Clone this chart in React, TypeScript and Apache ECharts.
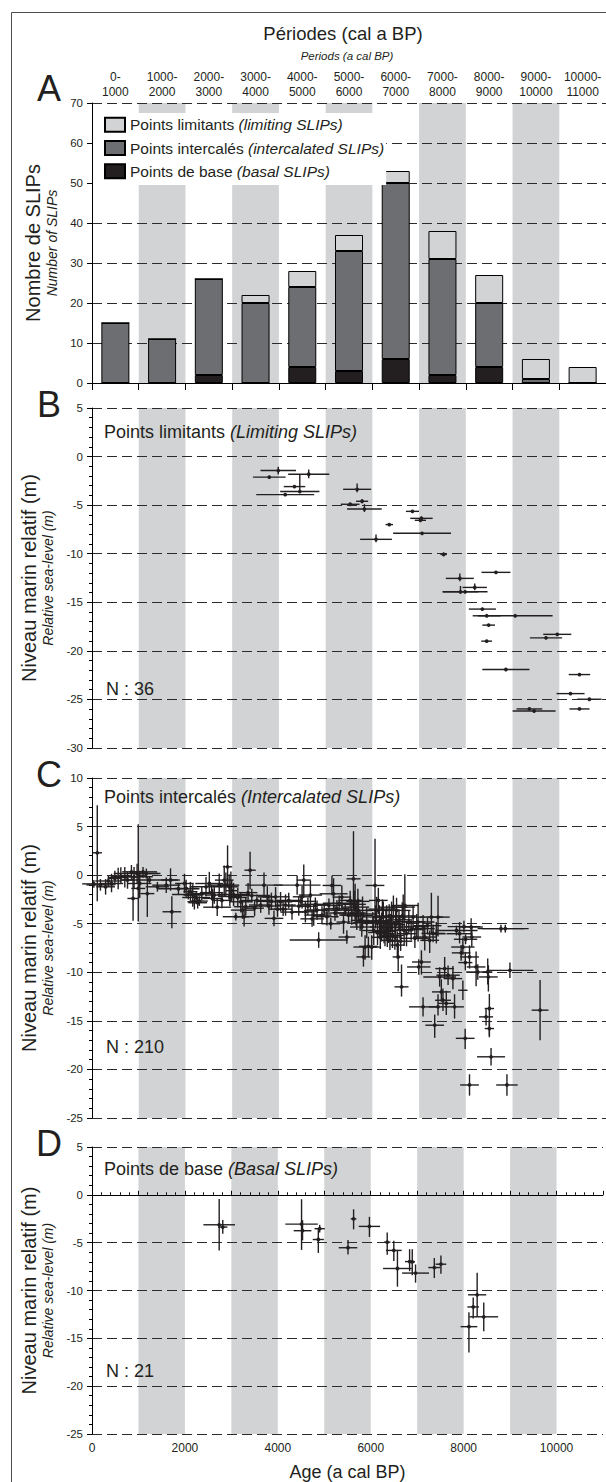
import React, { useEffect, useRef } from 'react';
import * as echarts from 'echarts';

const FONT = "'Liberation Sans', Arial, Helvetica, sans-serif";
const TEXT = '#231f20';
const BAND = '#d1d3d4';

// ---- Panel A: number of SLIPs per millennium ----
const periodLabels = ['0-\n1000', '1000-\n2000', '2000-\n3000', '3000-\n4000', '4000-\n5000', '5000-\n6000', '6000-\n7000', '7000-\n8000', '8000-\n9000', '9000-\n10000', '10000-\n11000'];
const basalCounts = [0, 0, 2, 0, 4, 3, 6, 2, 4, 0, 0];
const intercalatedCounts = [15, 11, 24, 20, 20, 30, 44, 29, 16, 1, 0];
const limitingCounts = [0, 0, 0, 2, 4, 4, 3, 7, 7, 5, 4];
const bandStarts = [1000, 3000, 5000, 7000, 9000];
const ageTickLabels = [0, 2000, 4000, 6000, 8000, 10000];

const NAME_LIM = 'Points limitants (limiting SLIPs)';
const NAME_INT = 'Points intercalés (intercalated SLIPs)';
const NAME_BAS = 'Points de base (basal SLIPs)';

// ---- SLIPs: [age, rsl, ageErr, rslErrDown, rslErrUp] ----
const limitingPoints = [
  [3986, -1.44, 380, 0.4, 0.4], [3794, -2.12, 350, 0.1, 0.1], [4638, -1.82, 440, 0.4, 0.5],
  [4333, -3.09, 230, 0.1, 0.1], [4447, -3.6, 420, 0.1, 1.8], [4135, -3.92, 620, 0.1, 0.1],
  [5674, -3.37, 300, 0.3, 0.6], [5780, -4.6, 130, 0.2, 0.2], [5525, -4.91, 200, 0.1, 0.1],
  [5830, -5.4, 370, 0.3, 0.5], [6858, -5.64, 140, 0.1, 0.1], [7050, -6.36, 240, 0.2, 0.2],
  [7028, -6.56, 120, 0.1, 0.1], [6362, -7.0, 80, 0.1, 0.1], [7064, -7.9, 620, 0.1, 0.1],
  [6078, -8.52, 340, 0.3, 0.5], [7525, -10.07, 70, 0.2, 0.2], [8645, -11.92, 310, 0.1, 0.1],
  [7872, -12.54, 300, 0.3, 0.5], [8191, -13.47, 260, 0.3, 0.4], [7886, -13.92, 380, 0.2, 0.6],
  [7985, -13.92, 480, 0.1, 0.1], [8354, -15.7, 290, 0.1, 0.1], [8447, -16.39, 300, 0.1, 0.1],
  [9057, -16.39, 800, 0.1, 0.1], [8489, -17.35, 135, 0.1, 0.1], [8447, -19.0, 115, 0.1, 0.1],
  [9957, -18.3, 300, 0.1, 0.1], [9716, -18.66, 345, 0.1, 0.1], [8858, -21.92, 505, 0.1, 0.1],
  [10432, -22.44, 230, 0.1, 0.1], [10241, -24.4, 300, 0.1, 0.1], [10645, -24.98, 260, 0.1, 0.1],
  [10432, -25.98, 215, 0.1, 0.1], [9361, -25.98, 275, 0.1, 0.1], [9461, -26.19, 460, 0.1, 0.1],
];

const intercalatedPoints = [
  [113, 2.3, 100, 5.0, 4.9], [40, -0.9, 250, 0.4, 0.4], [180, -1.0, 300, 0.6, 0.6], [291, -1.2, 200, 0.8, 0.8],
  [350, -0.6, 280, 0.6, 0.6], [418, -0.86, 250, 0.9, 1.0], [489, -0.34, 150, 0.7, 0.8], [560, -0.24, 200, 1.2, 1.0],
  [617, -0.1, 180, 0.8, 0.9], [702, -0.17, 300, 1.1, 1.0], [760, -0.5, 150, 0.9, 0.9], [844, 0.34, 200, 0.8, 0.7],
  [879, -2.4, 120, 2.3, 2.2], [900, -0.17, 400, 1.2, 1.0], [965, 0.17, 500, 1.0, 1.0],
  [1021, -0.86, 250, 1.5, 1.3], [990, -1.37, 150, 3.4, 6.6], [1092, 0.34, 300, 0.6, 0.5], [1163, 0.17, 250, 0.5, 0.5],
  [1184, -1.9, 150, 2.4, 1.7], [1230, -0.5, 600, 0.3, 0.3], [1400, -1.2, 250, 0.5, 0.5], [1589, -1.03, 300, 0.8, 0.8],
  [1681, -0.5, 200, 1.1, 1.2], [1709, -3.77, 200, 1.7, 1.6], [1850, -1.4, 450, 0.6, 0.6], [1979, -0.86, 200, 1.0, 1.0],
  [2014, -1.37, 250, 1.0, 0.9], [2060, -2.0, 350, 0.5, 0.5], [2106, -1.7, 150, 1.0, 1.0], [2156, -2.05, 200, 1.2, 1.1],
  [2191, -2.74, 150, 0.8, 0.8], [2230, -2.3, 300, 0.6, 0.6], [2262, -2.84, 200, 0.6, 0.6], [2298, -2.67, 180, 0.5, 0.5],
  [2350, -1.9, 250, 0.7, 0.7], [2440, -1.2, 350, 1.0, 1.0], [2511, -0.86, 300, 1.1, 1.2], [2560, -1.8, 250, 0.8, 0.8],
  [2582, -2.4, 220, 1.0, 1.0], [2617, -2.05, 200, 0.9, 0.9], [2680, -3.3, 300, 0.9, 0.9], [2723, -1.03, 250, 1.2, 1.2],
  [2780, -2.6, 200, 0.8, 0.8], [2830, -0.51, 200, 1.7, 1.5], [2865, -1.03, 150, 1.2, 1.3], [2901, 0.86, 100, 2.1, 2.2],
  [2936, -1.2, 200, 1.4, 1.3], [2950, -2.2, 250, 1.0, 1.0], [2972, -1.03, 180, 1.5, 1.4], [2990, -1.6, 120, 1.1, 1.1],
  [3030, -2.0, 350, 1.2, 1.2], [3078, -4.28, 280, 0.4, 0.4], [3120, -2.3, 200, 1.0, 1.0], [3184, -2.74, 250, 1.1, 1.0],
  [3220, -3.6, 250, 0.9, 0.9], [3255, -4.28, 220, 1.0, 1.0], [3291, -3.25, 250, 0.9, 0.9], [3340, -1.8, 200, 1.0, 1.0],
  [3383, 0.51, 120, 2.0, 1.9], [3420, -2.1, 400, 0.7, 0.7], [3480, -3.4, 200, 0.8, 0.8], [3530, -2.6, 350, 0.6, 0.6],
  [3610, -3.08, 250, 0.8, 0.8], [3681, -1.03, 400, 1.3, 1.3], [3752, -2.23, 200, 1.1, 1.1], [3787, -3.18, 250, 0.9, 0.9],
  [3840, -2.7, 300, 0.9, 0.9], [3894, -4.45, 200, 0.8, 0.8], [3929, -2.23, 300, 1.1, 1.0], [3970, -3.5, 200, 0.8, 0.8],
  [4035, -2.74, 250, 1.0, 1.0], [4090, -3.5, 200, 0.7, 0.7], [4142, -3.08, 220, 1.1, 1.1], [4210, -2.6, 300, 0.8, 0.8],
  [4280, -3.8, 250, 0.8, 0.8], [4390, -1.03, 500, 1.0, 1.0], [4425, -3.18, 250, 1.0, 1.0], [4470, -2.7, 300, 0.6, 0.6],
  [4496, -2.23, 200, 1.2, 1.1], [4532, -0.51, 150, 1.8, 1.6], [4567, -3.77, 250, 1.1, 1.1], [4620, -3.2, 200, 0.9, 0.9],
  [4674, -2.05, 250, 1.5, 1.5], [4710, -4.5, 250, 0.8, 0.8], [4745, -4.11, 200, 1.1, 1.1], [4780, -3.0, 300, 0.7, 0.7],
  [4816, -3.6, 250, 1.0, 1.0], [4851, -6.68, 620, 0.8, 0.8], [4922, -4.11, 200, 0.9, 0.9], [4970, -3.6, 350, 0.6, 0.6],
  [5028, -4.28, 250, 0.9, 0.9], [5070, -3.1, 300, 0.7, 0.7], [5110, -5.0, 200, 0.6, 0.6], [5135, -1.06, 200, 1.0, 1.0],
  [5170, -1.92, 300, 1.6, 1.6], [5200, -3.9, 250, 0.8, 0.8], [5241, -3.46, 250, 0.9, 0.9], [5290, -2.9, 350, 0.8, 0.8],
  [5347, -2.26, 200, 1.3, 1.2], [5383, -4.83, 150, 1.2, 1.0], [5420, -3.6, 300, 0.6, 0.6], [5454, -6.37, 180, 0.7, 0.7],
  [5490, -4.1, 200, 0.8, 0.8], [5525, -2.6, 250, 1.0, 1.0], [5560, -3.9, 300, 1.2, 1.2], [5596, -0.38, 150, 3.2, 4.9],
  [5610, -3.0, 250, 1.2, 1.4], [5631, -3.29, 300, 1.5, 2.4], [5650, -4.2, 200, 1.0, 1.0], [5667, -4.14, 350, 1.5, 1.5],
  [5690, -2.7, 250, 1.3, 1.3], [5702, -3.63, 300, 1.2, 1.2], [5738, -4.66, 200, 1.1, 1.1], [5773, -5.34, 250, 1.0, 1.0],
  [5790, -4.0, 300, 1.3, 1.8], [5809, -8.42, 150, 1.0, 1.0], [5844, -7.4, 250, 1.3, 1.2], [5880, -4.9, 300, 1.6, 1.6],
  [5915, -7.33, 200, 1.1, 1.0], [5986, -7.4, 200, 1.3, 1.2],
  [6010, -4.8, 350, 1.0, 1.0], [6030, -5.7, 250, 1.5, 1.5], [6057, -1.06, 200, 3.3, 4.8], [6070, -4.3, 300, 1.2, 1.2],
  [6092, -3.63, 250, 1.5, 1.4], [6110, -5.9, 200, 1.3, 1.3], [6128, -2.6, 200, 1.4, 1.3], [6150, -4.7, 300, 1.6, 1.6],
  [6170, -6.4, 200, 1.2, 2.0], [6199, -5.34, 250, 1.5, 1.5], [6215, -3.5, 300, 1.0, 1.0], [6234, -4.32, 200, 1.6, 1.6],
  [6250, -5.8, 250, 1.2, 1.2], [6270, -6.03, 200, 1.3, 1.4], [6290, -4.9, 300, 1.4, 1.4], [6305, -5.0, 250, 1.8, 1.9],
  [6320, -6.3, 200, 1.1, 1.1], [6341, -5.68, 200, 1.3, 1.2], [6360, -4.2, 300, 1.2, 1.2], [6376, -6.71, 200, 1.0, 1.0],
  [6390, -5.4, 200, 1.4, 1.4], [6411, -4.32, 250, 1.5, 1.6], [6430, -6.2, 250, 1.3, 1.3], [6450, -3.3, 300, 1.2, 1.2],
  [6482, -6.37, 150, 1.3, 1.3], [6500, -5.1, 200, 1.6, 1.6], [6518, -3.63, 300, 1.3, 1.3], [6535, -7.2, 150, 1.4, 1.4],
  [6553, -8.42, 120, 1.5, 1.5], [6570, -4.6, 250, 1.1, 1.1], [6589, -5.34, 300, 1.2, 1.2], [6605, -6.8, 250, 1.0, 1.0],
  [6624, -11.5, 150, 1.0, 2.3], [6640, -4.2, 300, 1.4, 1.4], [6660, -3.29, 250, 1.3, 1.3], [6680, -5.7, 200, 1.6, 1.6],
  [6695, -3.12, 300, 1.5, 3.2], [6731, -6.03, 200, 1.3, 1.3], [6780, -4.8, 350, 1.2, 1.2], [6830, -5.6, 300, 1.1, 1.1],
  [6872, -4.32, 250, 1.2, 1.2], [6910, -6.5, 300, 1.0, 1.0], [6950, -5.3, 250, 1.3, 1.3], [6979, -4.83, 350, 2.0, 2.0],
  [6993, -9.45, 250, 0.8, 0.8],
  [7050, -8.94, 200, 1.3, 1.2], [7085, -5.51, 250, 1.3, 1.4], [7085, -13.56, 300, 1.0, 1.0], [7121, -6.37, 250, 1.4, 1.2],
  [7180, -5.2, 300, 0.8, 0.8], [7227, -6.71, 200, 1.3, 1.0], [7263, -4.32, 250, 1.8, 2.5], [7300, -6.0, 250, 0.9, 0.9],
  [7334, -15.45, 200, 1.3, 1.1], [7369, -6.03, 200, 1.0, 1.2], [7405, -4.32, 250, 2.0, 2.2], [7405, -13.56, 200, 0.9, 1.3],
  [7440, -10.48, 350, 1.0, 1.0], [7476, -12.02, 200, 1.0, 1.3], [7511, -12.88, 170, 1.1, 1.2], [7547, -9.62, 200, 1.0, 1.2],
  [7582, -13.2, 180, 1.2, 1.3], [7620, -10.3, 250, 1.0, 1.0], [7724, -10.65, 200, 1.1, 1.3], [7759, -13.56, 200, 1.2, 1.3],
  [7800, -5.7, 450, 0.5, 0.5], [7866, -6.03, 280, 1.0, 1.2], [7900, -8.0, 200, 0.8, 0.8], [7937, -7.4, 250, 0.8, 0.9],
  [7937, -11.85, 100, 1.0, 1.0], [7960, -5.3, 350, 0.6, 0.6], [7986, -16.8, 200, 1.1, 1.0], [7990, -9.0, 150, 0.8, 1.0],
  [7995, -6.6, 250, 0.5, 0.5],
  [8079, -8.42, 200, 1.2, 1.2], [8079, -21.6, 200, 1.1, 1.1], [8114, -5.34, 250, 0.9, 0.9], [8128, -6.37, 200, 1.0, 1.0],
  [8220, -9.45, 200, 2.0, 1.6], [8256, -9.97, 250, 0.8, 0.8], [8433, -14.59, 150, 0.9, 0.9], [8469, -9.97, 100, 1.3, 1.4],
  [8483, -10.48, 200, 1.5, 1.2], [8504, -13.73, 100, 2.8, 1.5], [8504, -15.79, 100, 0.9, 0.9], [8540, -18.7, 300, 0.9, 0.9],
  [8752, -5.51, 500, 0.4, 0.4], [8845, -5.51, 500, 0.4, 0.4], [8880, -21.6, 230, 1.1, 1.1], [8944, -9.8, 500, 0.8, 0.8],
  [9589, -13.9, 180, 3.1, 3.1],
];

const basalPoints = [
  [2738, -3.13, 340, 2.7, 2.7], [2815, -3.37, 100, 0.7, 0.75], [4511, -3.06, 350, 2.7, 2.6],
  [4532, -3.75, 190, 1.0, 1.1], [4901, -3.54, 110, 0.4, 0.4], [4872, -4.67, 120, 1.4, 1.2],
  [5631, -2.51, 60, 1.1, 1.0], [5511, -5.53, 200, 0.7, 0.8], [5972, -3.3, 230, 1.1, 1.0],
  [6355, -4.95, 70, 1.3, 1.0], [6497, -5.81, 170, 1.1, 1.0], [6575, -7.7, 310, 1.9, 1.9],
  [6837, -6.98, 100, 1.0, 1.3], [6894, -7.0, 60, 1.4, 1.3], [6965, -8.18, 290, 1.0, 0.9],
  [7369, -7.6, 130, 1.1, 1.0], [7511, -7.25, 115, 1.0, 0.9], [8291, -10.45, 195, 2.3, 2.3],
  [8206, -11.72, 125, 1.2, 1.0], [8433, -12.75, 310, 1.5, 1.5], [8114, -13.78, 180, 2.7, 1.5],
];

const rslRanges = [
  { min: -30, max: 5 },
  { min: -25, max: 10 },
  { min: -25, max: 5 },
];

const GRID_LEFT = 92;
const GRID_RIGHT = -4;
const grids = [
  { top: 103, height: 280 },
  { top: 408, height: 340 },
  { top: 778, height: 340 },
  { top: 1147, height: 291 },
];

function bandRenderer(yMin: number, yMax: number) {
  return (params: any, api: any) => {
    const s = api.value(0);
    const p1 = api.coord([s, yMax]);
    const p2 = api.coord([s + 1000, yMin]);
    return {
      type: 'rect',
      shape: { x: p1[0], y: p1[1], width: p2[0] - p1[0], height: p2[1] - p1[1] },
      style: { fill: BAND },
    };
  };
}

function errorBarRenderer(params: any, api: any) {
  const x = api.value(0);
  const y = api.value(1);
  const ex = api.value(2);
  const dn = api.value(3);
  const up = api.value(4);
  const c = api.coord([x, y]);
  const l = api.coord([x - ex, y]);
  const r = api.coord([x + ex, y]);
  const t = api.coord([x, y + up]);
  const b = api.coord([x, y - dn]);
  const st = { stroke: '#231f20', lineWidth: 1.4 };
  return {
    type: 'group',
    children: [
      { type: 'line', shape: { x1: l[0], y1: c[1], x2: r[0], y2: c[1] }, style: st },
      { type: 'line', shape: { x1: c[0], y1: t[1], x2: c[0], y2: b[1] }, style: st },
      { type: 'circle', shape: { cx: c[0], cy: c[1], r: 1.9 }, style: { fill: '#231f20' } },
    ],
  };
}

function buildOption() {
  const splitLine = { show: true, lineStyle: { type: [10, 5], color: '#2b2b2b', width: 1 } };
  const tickStyle = { color: '#000', width: 1 };
  const axisLineStyle = { show: true, lineStyle: { color: '#000', width: 1 } };
  const yLabel = { fontSize: 11.5, margin: 9, color: TEXT, fontFamily: FONT };
  const rslName = '{a|Niveau marin relatif (m)}\n{b|Relative sea-level (m)}';
  const nameStyle = {
    fontFamily: FONT,
    color: TEXT,
    rich: {
      a: { fontSize: 20, lineHeight: 22, fontFamily: FONT, color: TEXT },
      b: { fontSize: 14, lineHeight: 16, fontStyle: 'italic', fontFamily: FONT, color: TEXT },
    },
  };
  const baseX = { type: 'value', min: 0, max: 11000, interval: 1000 };

  const xAxis: any[] = [
    {
      ...baseX, gridIndex: 0,
      axisLine: axisLineStyle,
      axisTick: { show: true, length: 7, lineStyle: tickStyle },
      axisLabel: { show: false }, splitLine: { show: false },
    },
    {
      type: 'category', gridIndex: 0, position: 'top', data: periodLabels,
      axisLine: { show: false }, axisTick: { show: false }, splitLine: { show: false },
      axisLabel: { interval: 0, fontSize: 12, lineHeight: 15, margin: 4, color: TEXT, fontFamily: FONT },
    },
    { ...baseX, gridIndex: 1, show: false },
    { ...baseX, gridIndex: 2, show: false },
    {
      ...baseX, gridIndex: 3,
      axisLine: axisLineStyle,
      axisTick: { show: true, inside: true, length: 4, lineStyle: tickStyle },
      minorTick: { show: true, splitNumber: 5, length: 2.5, lineStyle: tickStyle },
      axisLabel: {
        fontSize: 12, margin: 8, color: TEXT, fontFamily: FONT,
        formatter: (v: number) => (ageTickLabels.indexOf(v) >= 0 ? String(v) : ''),
      },
      splitLine: { show: false },
      name: 'Age (a cal BP)', nameLocation: 'middle', nameGap: 29,
      nameTextStyle: { fontSize: 18, color: TEXT, fontFamily: FONT },
    },
  ];

  const yAxis: any[] = [
    {
      type: 'value', gridIndex: 0, min: 0, max: 70, interval: 10,
      axisLine: axisLineStyle, axisTick: { show: true, length: 5, lineStyle: tickStyle },
      axisLabel: yLabel, splitLine,
      name: '{a|Nombre de SLIPs}\n{b|Number of SLIPs}', nameLocation: 'middle', nameGap: 32, nameRotate: 90,
      nameTextStyle: nameStyle,
    },
    ...rslRanges.map((r, i) => ({
      type: 'value', gridIndex: i + 1, min: r.min, max: r.max, interval: 5,
      axisLine: axisLineStyle, axisTick: { show: true, length: 5, lineStyle: tickStyle },
      minorTick: { show: true, splitNumber: 5, length: 3, lineStyle: tickStyle },
      axisLabel: yLabel, splitLine,
      name: rslName, nameLocation: 'middle', nameGap: 32, nameRotate: 90,
      nameTextStyle: nameStyle,
    })),
  ];

  const bandRanges = [{ min: 0, max: 70 }, ...rslRanges];
  const bandX = [0, 2, 3, 4];
  const bandSeries = bandRanges.map((r, i) => ({
    type: 'custom', name: 'band' + i, silent: true, z: -1,
    xAxisIndex: bandX[i], yAxisIndex: i,
    renderItem: bandRenderer(r.min, r.max),
    encode: { x: 0, y: 1 },
    data: bandStarts.map((s) => [s, r.min]),
  }));

  // stacked bars on the top category axis of grid A (one category per millennium)
  const barCommon = {
    type: 'bar', stack: 'slips', xAxisIndex: 1, yAxisIndex: 0, barWidth: 28, silent: true,
  };
  const barSeries = [
    { ...barCommon, name: NAME_BAS, data: basalCounts, itemStyle: { color: '#231f20', borderColor: '#000', borderWidth: 1 } },
    { ...barCommon, name: NAME_INT, data: intercalatedCounts, itemStyle: { color: '#6d6e71', borderColor: '#000', borderWidth: 1 } },
    { ...barCommon, name: NAME_LIM, data: limitingCounts, itemStyle: { color: '#d1d3d4', borderColor: '#000', borderWidth: 1 } },
  ];

  const pointSets = [limitingPoints, intercalatedPoints, basalPoints];
  const errSeries = pointSets.map((pts, i) => ({
    type: 'custom', name: 'slip' + i, silent: true,
    xAxisIndex: i + 2, yAxisIndex: i + 1,
    renderItem: errorBarRenderer,
    encode: { x: 0, y: 1 },
    data: pts,
  }));

  const txt = (text: string, x: number, y: number, size: number, extra: any = {}) => ({
    type: 'text', x, y, z: 10,
    style: {
      text, fontSize: size, fontFamily: FONT, fill: TEXT,
      align: extra.align || 'left', textAlign: extra.align || 'left',
      verticalAlign: 'middle', textVerticalAlign: 'middle',
      ...(extra.rich ? { rich: extra.rich } : {}),
      ...(extra.fontStyle ? { fontStyle: extra.fontStyle } : {}),
    },
  });
  const innerRich = {
    n: { fontSize: 18, fontFamily: FONT, fill: TEXT, color: TEXT },
    i: { fontSize: 18, fontFamily: FONT, fontStyle: 'italic', fill: TEXT, color: TEXT },
  };

  const graphic: any[] = [
    { type: 'rect', z: 10, silent: true, shape: { x: 11.5, y: 12.5, width: 700, height: 1600 }, style: { fill: 'none', stroke: '#4d4d4d', lineWidth: 1 } },
    txt('Périodes (cal a BP)', 343, 33, 18.5, { align: 'center' }),
    txt('Periods (a cal BP)', 347, 56, 11.5, { align: 'center', fontStyle: 'italic' }),
    txt('A', 49, 88, 36, { align: 'center' }),
    txt('B', 49, grids[1].top - 4, 36, { align: 'center' }),
    txt('C', 49, grids[2].top - 4, 36, { align: 'center' }),
    txt('D', 49, grids[3].top - 4, 36, { align: 'center' }),
    txt('{n|Points limitants }{i|(Limiting SLIPs)}', 104, grids[1].top + 24, 18, { rich: innerRich }),
    txt('{n|Points intercalés }{i|(Intercalated SLIPs)}', 104, grids[2].top + 19, 18, { rich: innerRich }),
    txt('{n|Points de base }{i|(Basal SLIPs)}', 104, grids[3].top + 22, 18, { rich: innerRich }),
    txt('N : 36', 106, grids[1].top + grids[1].height - 59, 18),
    txt('N : 210', 106, grids[2].top + grids[2].height - 71, 18),
    txt('N : 21', 106, grids[3].top + grids[3].height - 67, 18),
  ];

  return {
    animation: false,
    backgroundColor: '#ffffff',
    textStyle: { fontFamily: FONT, color: TEXT },
    grid: grids.map((g) => ({ left: GRID_LEFT, right: GRID_RIGHT, top: g.top, height: g.height })),
    xAxis,
    yAxis,
    legend: {
      data: [NAME_LIM, NAME_INT, NAME_BAS],
      orient: 'vertical', left: 93, top: 113,
      itemWidth: 20, itemHeight: 14, itemGap: 7.3,
      icon: 'rect', selectedMode: false,
      backgroundColor: '#ffffff',
      padding: [3.7, 2, 5.7, 11],
      formatter: (name: string) => {
        const k = name.indexOf('(');
        return '{n|' + name.slice(0, k) + '}{i|' + name.slice(k) + '}';
      },
      textStyle: {
        fontSize: 15.5, lineHeight: 14, color: TEXT, fontFamily: FONT,
        rich: {
          n: { fontSize: 15.5, lineHeight: 14, color: TEXT, fontFamily: FONT },
          i: { fontSize: 15.5, lineHeight: 14, color: TEXT, fontFamily: FONT, fontStyle: 'italic' },
        },
      },
    },
    series: [...bandSeries, ...barSeries, ...errSeries],
    graphic,
  };
}

export default function App() {
  const ref = useRef<HTMLDivElement>(null);
  useEffect(() => {
    if (!ref.current) return;
    const chart = echarts.init(ref.current, undefined, { renderer: 'svg' });
    chart.setOption(buildOption() as any);
    return () => chart.dispose();
  }, []);
  return (
    <div
      ref={ref}
      style={{ position: 'absolute', left: 0, top: 0, width: 606, height: 1482, background: '#fff' }}
    />
  );
}
